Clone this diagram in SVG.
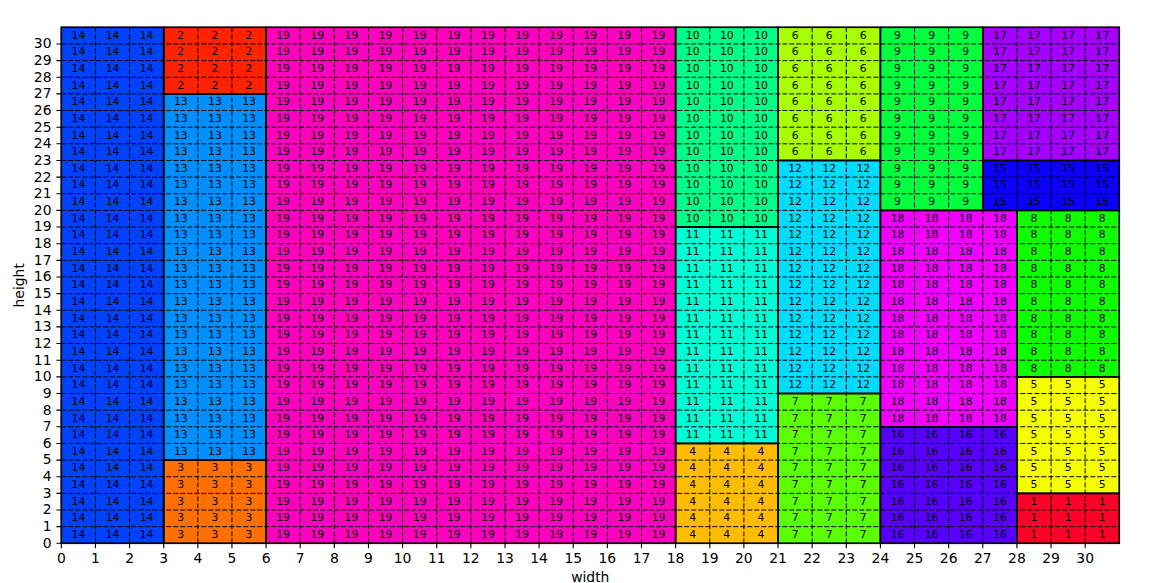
<svg xmlns="http://www.w3.org/2000/svg" width="1156" height="583" viewBox="0 0 1156 583">
<style>
text{font-family:"DejaVu Sans","Liberation Sans",sans-serif;fill:#000}
.c text{font-size:10.8px;text-anchor:middle}
.grid{fill:none;stroke:#000;stroke-width:1;stroke-dasharray:5 2}
.ol{fill:none;stroke:#000;stroke-width:1.6}
.tk{stroke:#000;stroke-width:1.1;fill:none}
.xl{font-size:13.9px;text-anchor:middle}
.yl{font-size:13.9px;text-anchor:end}
</style>
<rect width="1156" height="583" fill="#fff"/>
<g id="fills">
<rect x="61.3" y="27.3" width="102.39" height="516" fill="#0042ff"/>
<rect x="163.69" y="27.3" width="102.38" height="66.59" fill="#ff2300"/>
<rect x="163.69" y="93.89" width="102.38" height="366.19" fill="#008fff"/>
<rect x="163.69" y="460.08" width="102.38" height="83.22" fill="#ff7000"/>
<rect x="266.07" y="27.3" width="409.55" height="516" fill="#ff00bf"/>
<rect x="675.62" y="27.3" width="102.39" height="199.75" fill="#00ff89"/>
<rect x="675.62" y="227.05" width="102.39" height="216.38" fill="#00ffd5"/>
<rect x="675.62" y="443.43" width="102.39" height="99.87" fill="#ffbc00"/>
<rect x="778.01" y="27.3" width="102.39" height="133.17" fill="#a8ff00"/>
<rect x="778.01" y="160.47" width="102.39" height="233.03" fill="#00dcff"/>
<rect x="778.01" y="393.5" width="102.39" height="149.8" fill="#5cff00"/>
<rect x="880.4" y="27.3" width="102.38" height="183.1" fill="#00ff3d"/>
<rect x="880.4" y="210.4" width="136.51" height="216.39" fill="#f200ff"/>
<rect x="880.4" y="426.79" width="136.51" height="116.51" fill="#5800ff"/>
<rect x="982.78" y="27.3" width="136.52" height="133.17" fill="#a500ff"/>
<rect x="982.78" y="160.47" width="136.52" height="49.93" fill="#0b00ff"/>
<rect x="1016.91" y="210.4" width="102.39" height="166.45" fill="#0fff00"/>
<rect x="1016.91" y="376.85" width="102.39" height="116.52" fill="#f5ff00"/>
<rect x="1016.91" y="493.37" width="102.39" height="49.93" fill="#ff0029"/>
</g>
<g id="grid" class="grid">
<path d="M95.43 27.3V543.3M129.56 27.3V543.3M163.69 27.3V543.3M197.82 27.3V543.3M231.95 27.3V543.3M266.07 27.3V543.3M300.2 27.3V543.3M334.33 27.3V543.3M368.46 27.3V543.3M402.59 27.3V543.3M436.72 27.3V543.3M470.85 27.3V543.3M504.98 27.3V543.3M539.11 27.3V543.3M573.24 27.3V543.3M607.36 27.3V543.3M641.49 27.3V543.3M675.62 27.3V543.3M709.75 27.3V543.3M743.88 27.3V543.3M778.01 27.3V543.3M812.14 27.3V543.3M846.27 27.3V543.3M880.4 27.3V543.3M914.53 27.3V543.3M948.65 27.3V543.3M982.78 27.3V543.3M1016.91 27.3V543.3M1051.04 27.3V543.3M1085.17 27.3V543.3"/>
<path d="M61.3 526.66H1119.3M61.3 510.01H1119.3M61.3 493.37H1119.3M61.3 476.72H1119.3M61.3 460.08H1119.3M61.3 443.43H1119.3M61.3 426.79H1119.3M61.3 410.14H1119.3M61.3 393.5H1119.3M61.3 376.85H1119.3M61.3 360.21H1119.3M61.3 343.56H1119.3M61.3 326.92H1119.3M61.3 310.27H1119.3M61.3 293.63H1119.3M61.3 276.98H1119.3M61.3 260.34H1119.3M61.3 243.69H1119.3M61.3 227.05H1119.3M61.3 210.4H1119.3M61.3 193.76H1119.3M61.3 177.11H1119.3M61.3 160.47H1119.3M61.3 143.82H1119.3M61.3 127.18H1119.3M61.3 110.53H1119.3M61.3 93.89H1119.3M61.3 77.24H1119.3M61.3 60.6H1119.3M61.3 43.95H1119.3"/>
</g>
<g id="outlines" class="ol">
<rect x="61.3" y="27.3" width="102.39" height="516"/>
<rect x="163.69" y="27.3" width="102.38" height="66.59"/>
<rect x="163.69" y="93.89" width="102.38" height="366.19"/>
<rect x="163.69" y="460.08" width="102.38" height="83.22"/>
<rect x="266.07" y="27.3" width="409.55" height="516"/>
<rect x="675.62" y="27.3" width="102.39" height="199.75"/>
<rect x="675.62" y="227.05" width="102.39" height="216.38"/>
<rect x="675.62" y="443.43" width="102.39" height="99.87"/>
<rect x="778.01" y="27.3" width="102.39" height="133.17"/>
<rect x="778.01" y="160.47" width="102.39" height="233.03"/>
<rect x="778.01" y="393.5" width="102.39" height="149.8"/>
<rect x="880.4" y="27.3" width="102.38" height="183.1"/>
<rect x="880.4" y="210.4" width="136.51" height="216.39"/>
<rect x="880.4" y="426.79" width="136.51" height="116.51"/>
<rect x="982.78" y="27.3" width="136.52" height="133.17"/>
<rect x="982.78" y="160.47" width="136.52" height="49.93"/>
<rect x="1016.91" y="210.4" width="102.39" height="166.45"/>
<rect x="1016.91" y="376.85" width="102.39" height="116.52"/>
<rect x="1016.91" y="493.37" width="102.39" height="49.93"/>
</g>
<g id="r14" class="c">
<g transform="translate(78.4 0)"><text y="38.6">14</text><text y="55.3">14</text><text y="71.9">14</text><text y="88.6">14</text><text y="105.2">14</text><text y="121.9">14</text><text y="138.5">14</text><text y="155.1">14</text><text y="171.8">14</text><text y="188.4">14</text><text y="205.1">14</text><text y="221.7">14</text><text y="238.4">14</text><text y="255">14</text><text y="271.7">14</text><text y="288.3">14</text><text y="305">14</text><text y="321.6">14</text><text y="338.2">14</text><text y="354.9">14</text><text y="371.5">14</text><text y="388.2">14</text><text y="404.8">14</text><text y="421.5">14</text><text y="438.1">14</text><text y="454.8">14</text><text y="471.4">14</text><text y="488">14</text><text y="504.7">14</text><text y="521.3">14</text><text y="538">14</text></g>
<g transform="translate(112.5 0)"><text y="38.6">14</text><text y="55.3">14</text><text y="71.9">14</text><text y="88.6">14</text><text y="105.2">14</text><text y="121.9">14</text><text y="138.5">14</text><text y="155.1">14</text><text y="171.8">14</text><text y="188.4">14</text><text y="205.1">14</text><text y="221.7">14</text><text y="238.4">14</text><text y="255">14</text><text y="271.7">14</text><text y="288.3">14</text><text y="305">14</text><text y="321.6">14</text><text y="338.2">14</text><text y="354.9">14</text><text y="371.5">14</text><text y="388.2">14</text><text y="404.8">14</text><text y="421.5">14</text><text y="438.1">14</text><text y="454.8">14</text><text y="471.4">14</text><text y="488">14</text><text y="504.7">14</text><text y="521.3">14</text><text y="538">14</text></g>
<g transform="translate(146.6 0)"><text y="38.6">14</text><text y="55.3">14</text><text y="71.9">14</text><text y="88.6">14</text><text y="105.2">14</text><text y="121.9">14</text><text y="138.5">14</text><text y="155.1">14</text><text y="171.8">14</text><text y="188.4">14</text><text y="205.1">14</text><text y="221.7">14</text><text y="238.4">14</text><text y="255">14</text><text y="271.7">14</text><text y="288.3">14</text><text y="305">14</text><text y="321.6">14</text><text y="338.2">14</text><text y="354.9">14</text><text y="371.5">14</text><text y="388.2">14</text><text y="404.8">14</text><text y="421.5">14</text><text y="438.1">14</text><text y="454.8">14</text><text y="471.4">14</text><text y="488">14</text><text y="504.7">14</text><text y="521.3">14</text><text y="538">14</text></g>
</g>
<g id="r2" class="c">
<g transform="translate(180.8 0)"><text y="38.6">2</text><text y="55.3">2</text><text y="71.9">2</text><text y="88.6">2</text></g>
<g transform="translate(214.9 0)"><text y="38.6">2</text><text y="55.3">2</text><text y="71.9">2</text><text y="88.6">2</text></g>
<g transform="translate(249 0)"><text y="38.6">2</text><text y="55.3">2</text><text y="71.9">2</text><text y="88.6">2</text></g>
</g>
<g id="r13" class="c">
<g transform="translate(180.8 0)"><text y="105.2">13</text><text y="121.9">13</text><text y="138.5">13</text><text y="155.1">13</text><text y="171.8">13</text><text y="188.4">13</text><text y="205.1">13</text><text y="221.7">13</text><text y="238.4">13</text><text y="255">13</text><text y="271.7">13</text><text y="288.3">13</text><text y="305">13</text><text y="321.6">13</text><text y="338.2">13</text><text y="354.9">13</text><text y="371.5">13</text><text y="388.2">13</text><text y="404.8">13</text><text y="421.5">13</text><text y="438.1">13</text><text y="454.8">13</text></g>
<g transform="translate(214.9 0)"><text y="105.2">13</text><text y="121.9">13</text><text y="138.5">13</text><text y="155.1">13</text><text y="171.8">13</text><text y="188.4">13</text><text y="205.1">13</text><text y="221.7">13</text><text y="238.4">13</text><text y="255">13</text><text y="271.7">13</text><text y="288.3">13</text><text y="305">13</text><text y="321.6">13</text><text y="338.2">13</text><text y="354.9">13</text><text y="371.5">13</text><text y="388.2">13</text><text y="404.8">13</text><text y="421.5">13</text><text y="438.1">13</text><text y="454.8">13</text></g>
<g transform="translate(249 0)"><text y="105.2">13</text><text y="121.9">13</text><text y="138.5">13</text><text y="155.1">13</text><text y="171.8">13</text><text y="188.4">13</text><text y="205.1">13</text><text y="221.7">13</text><text y="238.4">13</text><text y="255">13</text><text y="271.7">13</text><text y="288.3">13</text><text y="305">13</text><text y="321.6">13</text><text y="338.2">13</text><text y="354.9">13</text><text y="371.5">13</text><text y="388.2">13</text><text y="404.8">13</text><text y="421.5">13</text><text y="438.1">13</text><text y="454.8">13</text></g>
</g>
<g id="r3" class="c">
<g transform="translate(180.8 0)"><text y="471.4">3</text><text y="488">3</text><text y="504.7">3</text><text y="521.3">3</text><text y="538">3</text></g>
<g transform="translate(214.9 0)"><text y="471.4">3</text><text y="488">3</text><text y="504.7">3</text><text y="521.3">3</text><text y="538">3</text></g>
<g transform="translate(249 0)"><text y="471.4">3</text><text y="488">3</text><text y="504.7">3</text><text y="521.3">3</text><text y="538">3</text></g>
</g>
<g id="r19" class="c">
<g transform="translate(283.1 0)"><text y="38.6">19</text><text y="55.3">19</text><text y="71.9">19</text><text y="88.6">19</text><text y="105.2">19</text><text y="121.9">19</text><text y="138.5">19</text><text y="155.1">19</text><text y="171.8">19</text><text y="188.4">19</text><text y="205.1">19</text><text y="221.7">19</text><text y="238.4">19</text><text y="255">19</text><text y="271.7">19</text><text y="288.3">19</text><text y="305">19</text><text y="321.6">19</text><text y="338.2">19</text><text y="354.9">19</text><text y="371.5">19</text><text y="388.2">19</text><text y="404.8">19</text><text y="421.5">19</text><text y="438.1">19</text><text y="454.8">19</text><text y="471.4">19</text><text y="488">19</text><text y="504.7">19</text><text y="521.3">19</text><text y="538">19</text></g>
<g transform="translate(317.3 0)"><text y="38.6">19</text><text y="55.3">19</text><text y="71.9">19</text><text y="88.6">19</text><text y="105.2">19</text><text y="121.9">19</text><text y="138.5">19</text><text y="155.1">19</text><text y="171.8">19</text><text y="188.4">19</text><text y="205.1">19</text><text y="221.7">19</text><text y="238.4">19</text><text y="255">19</text><text y="271.7">19</text><text y="288.3">19</text><text y="305">19</text><text y="321.6">19</text><text y="338.2">19</text><text y="354.9">19</text><text y="371.5">19</text><text y="388.2">19</text><text y="404.8">19</text><text y="421.5">19</text><text y="438.1">19</text><text y="454.8">19</text><text y="471.4">19</text><text y="488">19</text><text y="504.7">19</text><text y="521.3">19</text><text y="538">19</text></g>
<g transform="translate(351.4 0)"><text y="38.6">19</text><text y="55.3">19</text><text y="71.9">19</text><text y="88.6">19</text><text y="105.2">19</text><text y="121.9">19</text><text y="138.5">19</text><text y="155.1">19</text><text y="171.8">19</text><text y="188.4">19</text><text y="205.1">19</text><text y="221.7">19</text><text y="238.4">19</text><text y="255">19</text><text y="271.7">19</text><text y="288.3">19</text><text y="305">19</text><text y="321.6">19</text><text y="338.2">19</text><text y="354.9">19</text><text y="371.5">19</text><text y="388.2">19</text><text y="404.8">19</text><text y="421.5">19</text><text y="438.1">19</text><text y="454.8">19</text><text y="471.4">19</text><text y="488">19</text><text y="504.7">19</text><text y="521.3">19</text><text y="538">19</text></g>
<g transform="translate(385.5 0)"><text y="38.6">19</text><text y="55.3">19</text><text y="71.9">19</text><text y="88.6">19</text><text y="105.2">19</text><text y="121.9">19</text><text y="138.5">19</text><text y="155.1">19</text><text y="171.8">19</text><text y="188.4">19</text><text y="205.1">19</text><text y="221.7">19</text><text y="238.4">19</text><text y="255">19</text><text y="271.7">19</text><text y="288.3">19</text><text y="305">19</text><text y="321.6">19</text><text y="338.2">19</text><text y="354.9">19</text><text y="371.5">19</text><text y="388.2">19</text><text y="404.8">19</text><text y="421.5">19</text><text y="438.1">19</text><text y="454.8">19</text><text y="471.4">19</text><text y="488">19</text><text y="504.7">19</text><text y="521.3">19</text><text y="538">19</text></g>
<g transform="translate(419.7 0)"><text y="38.6">19</text><text y="55.3">19</text><text y="71.9">19</text><text y="88.6">19</text><text y="105.2">19</text><text y="121.9">19</text><text y="138.5">19</text><text y="155.1">19</text><text y="171.8">19</text><text y="188.4">19</text><text y="205.1">19</text><text y="221.7">19</text><text y="238.4">19</text><text y="255">19</text><text y="271.7">19</text><text y="288.3">19</text><text y="305">19</text><text y="321.6">19</text><text y="338.2">19</text><text y="354.9">19</text><text y="371.5">19</text><text y="388.2">19</text><text y="404.8">19</text><text y="421.5">19</text><text y="438.1">19</text><text y="454.8">19</text><text y="471.4">19</text><text y="488">19</text><text y="504.7">19</text><text y="521.3">19</text><text y="538">19</text></g>
<g transform="translate(453.8 0)"><text y="38.6">19</text><text y="55.3">19</text><text y="71.9">19</text><text y="88.6">19</text><text y="105.2">19</text><text y="121.9">19</text><text y="138.5">19</text><text y="155.1">19</text><text y="171.8">19</text><text y="188.4">19</text><text y="205.1">19</text><text y="221.7">19</text><text y="238.4">19</text><text y="255">19</text><text y="271.7">19</text><text y="288.3">19</text><text y="305">19</text><text y="321.6">19</text><text y="338.2">19</text><text y="354.9">19</text><text y="371.5">19</text><text y="388.2">19</text><text y="404.8">19</text><text y="421.5">19</text><text y="438.1">19</text><text y="454.8">19</text><text y="471.4">19</text><text y="488">19</text><text y="504.7">19</text><text y="521.3">19</text><text y="538">19</text></g>
<g transform="translate(487.9 0)"><text y="38.6">19</text><text y="55.3">19</text><text y="71.9">19</text><text y="88.6">19</text><text y="105.2">19</text><text y="121.9">19</text><text y="138.5">19</text><text y="155.1">19</text><text y="171.8">19</text><text y="188.4">19</text><text y="205.1">19</text><text y="221.7">19</text><text y="238.4">19</text><text y="255">19</text><text y="271.7">19</text><text y="288.3">19</text><text y="305">19</text><text y="321.6">19</text><text y="338.2">19</text><text y="354.9">19</text><text y="371.5">19</text><text y="388.2">19</text><text y="404.8">19</text><text y="421.5">19</text><text y="438.1">19</text><text y="454.8">19</text><text y="471.4">19</text><text y="488">19</text><text y="504.7">19</text><text y="521.3">19</text><text y="538">19</text></g>
<g transform="translate(522 0)"><text y="38.6">19</text><text y="55.3">19</text><text y="71.9">19</text><text y="88.6">19</text><text y="105.2">19</text><text y="121.9">19</text><text y="138.5">19</text><text y="155.1">19</text><text y="171.8">19</text><text y="188.4">19</text><text y="205.1">19</text><text y="221.7">19</text><text y="238.4">19</text><text y="255">19</text><text y="271.7">19</text><text y="288.3">19</text><text y="305">19</text><text y="321.6">19</text><text y="338.2">19</text><text y="354.9">19</text><text y="371.5">19</text><text y="388.2">19</text><text y="404.8">19</text><text y="421.5">19</text><text y="438.1">19</text><text y="454.8">19</text><text y="471.4">19</text><text y="488">19</text><text y="504.7">19</text><text y="521.3">19</text><text y="538">19</text></g>
<g transform="translate(556.2 0)"><text y="38.6">19</text><text y="55.3">19</text><text y="71.9">19</text><text y="88.6">19</text><text y="105.2">19</text><text y="121.9">19</text><text y="138.5">19</text><text y="155.1">19</text><text y="171.8">19</text><text y="188.4">19</text><text y="205.1">19</text><text y="221.7">19</text><text y="238.4">19</text><text y="255">19</text><text y="271.7">19</text><text y="288.3">19</text><text y="305">19</text><text y="321.6">19</text><text y="338.2">19</text><text y="354.9">19</text><text y="371.5">19</text><text y="388.2">19</text><text y="404.8">19</text><text y="421.5">19</text><text y="438.1">19</text><text y="454.8">19</text><text y="471.4">19</text><text y="488">19</text><text y="504.7">19</text><text y="521.3">19</text><text y="538">19</text></g>
<g transform="translate(590.3 0)"><text y="38.6">19</text><text y="55.3">19</text><text y="71.9">19</text><text y="88.6">19</text><text y="105.2">19</text><text y="121.9">19</text><text y="138.5">19</text><text y="155.1">19</text><text y="171.8">19</text><text y="188.4">19</text><text y="205.1">19</text><text y="221.7">19</text><text y="238.4">19</text><text y="255">19</text><text y="271.7">19</text><text y="288.3">19</text><text y="305">19</text><text y="321.6">19</text><text y="338.2">19</text><text y="354.9">19</text><text y="371.5">19</text><text y="388.2">19</text><text y="404.8">19</text><text y="421.5">19</text><text y="438.1">19</text><text y="454.8">19</text><text y="471.4">19</text><text y="488">19</text><text y="504.7">19</text><text y="521.3">19</text><text y="538">19</text></g>
<g transform="translate(624.4 0)"><text y="38.6">19</text><text y="55.3">19</text><text y="71.9">19</text><text y="88.6">19</text><text y="105.2">19</text><text y="121.9">19</text><text y="138.5">19</text><text y="155.1">19</text><text y="171.8">19</text><text y="188.4">19</text><text y="205.1">19</text><text y="221.7">19</text><text y="238.4">19</text><text y="255">19</text><text y="271.7">19</text><text y="288.3">19</text><text y="305">19</text><text y="321.6">19</text><text y="338.2">19</text><text y="354.9">19</text><text y="371.5">19</text><text y="388.2">19</text><text y="404.8">19</text><text y="421.5">19</text><text y="438.1">19</text><text y="454.8">19</text><text y="471.4">19</text><text y="488">19</text><text y="504.7">19</text><text y="521.3">19</text><text y="538">19</text></g>
<g transform="translate(658.6 0)"><text y="38.6">19</text><text y="55.3">19</text><text y="71.9">19</text><text y="88.6">19</text><text y="105.2">19</text><text y="121.9">19</text><text y="138.5">19</text><text y="155.1">19</text><text y="171.8">19</text><text y="188.4">19</text><text y="205.1">19</text><text y="221.7">19</text><text y="238.4">19</text><text y="255">19</text><text y="271.7">19</text><text y="288.3">19</text><text y="305">19</text><text y="321.6">19</text><text y="338.2">19</text><text y="354.9">19</text><text y="371.5">19</text><text y="388.2">19</text><text y="404.8">19</text><text y="421.5">19</text><text y="438.1">19</text><text y="454.8">19</text><text y="471.4">19</text><text y="488">19</text><text y="504.7">19</text><text y="521.3">19</text><text y="538">19</text></g>
</g>
<g id="r10" class="c">
<g transform="translate(692.7 0)"><text y="38.6">10</text><text y="55.3">10</text><text y="71.9">10</text><text y="88.6">10</text><text y="105.2">10</text><text y="121.9">10</text><text y="138.5">10</text><text y="155.1">10</text><text y="171.8">10</text><text y="188.4">10</text><text y="205.1">10</text><text y="221.7">10</text></g>
<g transform="translate(726.8 0)"><text y="38.6">10</text><text y="55.3">10</text><text y="71.9">10</text><text y="88.6">10</text><text y="105.2">10</text><text y="121.9">10</text><text y="138.5">10</text><text y="155.1">10</text><text y="171.8">10</text><text y="188.4">10</text><text y="205.1">10</text><text y="221.7">10</text></g>
<g transform="translate(761 0)"><text y="38.6">10</text><text y="55.3">10</text><text y="71.9">10</text><text y="88.6">10</text><text y="105.2">10</text><text y="121.9">10</text><text y="138.5">10</text><text y="155.1">10</text><text y="171.8">10</text><text y="188.4">10</text><text y="205.1">10</text><text y="221.7">10</text></g>
</g>
<g id="r11" class="c">
<g transform="translate(692.7 0)"><text y="238.4">11</text><text y="255">11</text><text y="271.7">11</text><text y="288.3">11</text><text y="305">11</text><text y="321.6">11</text><text y="338.2">11</text><text y="354.9">11</text><text y="371.5">11</text><text y="388.2">11</text><text y="404.8">11</text><text y="421.5">11</text><text y="438.1">11</text></g>
<g transform="translate(726.8 0)"><text y="238.4">11</text><text y="255">11</text><text y="271.7">11</text><text y="288.3">11</text><text y="305">11</text><text y="321.6">11</text><text y="338.2">11</text><text y="354.9">11</text><text y="371.5">11</text><text y="388.2">11</text><text y="404.8">11</text><text y="421.5">11</text><text y="438.1">11</text></g>
<g transform="translate(761 0)"><text y="238.4">11</text><text y="255">11</text><text y="271.7">11</text><text y="288.3">11</text><text y="305">11</text><text y="321.6">11</text><text y="338.2">11</text><text y="354.9">11</text><text y="371.5">11</text><text y="388.2">11</text><text y="404.8">11</text><text y="421.5">11</text><text y="438.1">11</text></g>
</g>
<g id="r4" class="c">
<g transform="translate(692.7 0)"><text y="454.8">4</text><text y="471.4">4</text><text y="488">4</text><text y="504.7">4</text><text y="521.3">4</text><text y="538">4</text></g>
<g transform="translate(726.8 0)"><text y="454.8">4</text><text y="471.4">4</text><text y="488">4</text><text y="504.7">4</text><text y="521.3">4</text><text y="538">4</text></g>
<g transform="translate(761 0)"><text y="454.8">4</text><text y="471.4">4</text><text y="488">4</text><text y="504.7">4</text><text y="521.3">4</text><text y="538">4</text></g>
</g>
<g id="r6" class="c">
<g transform="translate(795.1 0)"><text y="38.6">6</text><text y="55.3">6</text><text y="71.9">6</text><text y="88.6">6</text><text y="105.2">6</text><text y="121.9">6</text><text y="138.5">6</text><text y="155.1">6</text></g>
<g transform="translate(829.2 0)"><text y="38.6">6</text><text y="55.3">6</text><text y="71.9">6</text><text y="88.6">6</text><text y="105.2">6</text><text y="121.9">6</text><text y="138.5">6</text><text y="155.1">6</text></g>
<g transform="translate(863.3 0)"><text y="38.6">6</text><text y="55.3">6</text><text y="71.9">6</text><text y="88.6">6</text><text y="105.2">6</text><text y="121.9">6</text><text y="138.5">6</text><text y="155.1">6</text></g>
</g>
<g id="r12" class="c">
<g transform="translate(795.1 0)"><text y="171.8">12</text><text y="188.4">12</text><text y="205.1">12</text><text y="221.7">12</text><text y="238.4">12</text><text y="255">12</text><text y="271.7">12</text><text y="288.3">12</text><text y="305">12</text><text y="321.6">12</text><text y="338.2">12</text><text y="354.9">12</text><text y="371.5">12</text><text y="388.2">12</text></g>
<g transform="translate(829.2 0)"><text y="171.8">12</text><text y="188.4">12</text><text y="205.1">12</text><text y="221.7">12</text><text y="238.4">12</text><text y="255">12</text><text y="271.7">12</text><text y="288.3">12</text><text y="305">12</text><text y="321.6">12</text><text y="338.2">12</text><text y="354.9">12</text><text y="371.5">12</text><text y="388.2">12</text></g>
<g transform="translate(863.3 0)"><text y="171.8">12</text><text y="188.4">12</text><text y="205.1">12</text><text y="221.7">12</text><text y="238.4">12</text><text y="255">12</text><text y="271.7">12</text><text y="288.3">12</text><text y="305">12</text><text y="321.6">12</text><text y="338.2">12</text><text y="354.9">12</text><text y="371.5">12</text><text y="388.2">12</text></g>
</g>
<g id="r7" class="c">
<g transform="translate(795.1 0)"><text y="404.8">7</text><text y="421.5">7</text><text y="438.1">7</text><text y="454.8">7</text><text y="471.4">7</text><text y="488">7</text><text y="504.7">7</text><text y="521.3">7</text><text y="538">7</text></g>
<g transform="translate(829.2 0)"><text y="404.8">7</text><text y="421.5">7</text><text y="438.1">7</text><text y="454.8">7</text><text y="471.4">7</text><text y="488">7</text><text y="504.7">7</text><text y="521.3">7</text><text y="538">7</text></g>
<g transform="translate(863.3 0)"><text y="404.8">7</text><text y="421.5">7</text><text y="438.1">7</text><text y="454.8">7</text><text y="471.4">7</text><text y="488">7</text><text y="504.7">7</text><text y="521.3">7</text><text y="538">7</text></g>
</g>
<g id="r9" class="c">
<g transform="translate(897.5 0)"><text y="38.6">9</text><text y="55.3">9</text><text y="71.9">9</text><text y="88.6">9</text><text y="105.2">9</text><text y="121.9">9</text><text y="138.5">9</text><text y="155.1">9</text><text y="171.8">9</text><text y="188.4">9</text><text y="205.1">9</text></g>
<g transform="translate(931.6 0)"><text y="38.6">9</text><text y="55.3">9</text><text y="71.9">9</text><text y="88.6">9</text><text y="105.2">9</text><text y="121.9">9</text><text y="138.5">9</text><text y="155.1">9</text><text y="171.8">9</text><text y="188.4">9</text><text y="205.1">9</text></g>
<g transform="translate(965.7 0)"><text y="38.6">9</text><text y="55.3">9</text><text y="71.9">9</text><text y="88.6">9</text><text y="105.2">9</text><text y="121.9">9</text><text y="138.5">9</text><text y="155.1">9</text><text y="171.8">9</text><text y="188.4">9</text><text y="205.1">9</text></g>
</g>
<g id="r17" class="c">
<g transform="translate(999.9 0)"><text y="38.6">17</text><text y="55.3">17</text><text y="71.9">17</text><text y="88.6">17</text><text y="105.2">17</text><text y="121.9">17</text><text y="138.5">17</text><text y="155.1">17</text></g>
<g transform="translate(1034 0)"><text y="38.6">17</text><text y="55.3">17</text><text y="71.9">17</text><text y="88.6">17</text><text y="105.2">17</text><text y="121.9">17</text><text y="138.5">17</text><text y="155.1">17</text></g>
<g transform="translate(1068.1 0)"><text y="38.6">17</text><text y="55.3">17</text><text y="71.9">17</text><text y="88.6">17</text><text y="105.2">17</text><text y="121.9">17</text><text y="138.5">17</text><text y="155.1">17</text></g>
<g transform="translate(1102.2 0)"><text y="38.6">17</text><text y="55.3">17</text><text y="71.9">17</text><text y="88.6">17</text><text y="105.2">17</text><text y="121.9">17</text><text y="138.5">17</text><text y="155.1">17</text></g>
</g>
<g id="r15" class="c">
<g transform="translate(999.9 0)"><text y="171.8">15</text><text y="188.4">15</text><text y="205.1">15</text></g>
<g transform="translate(1034 0)"><text y="171.8">15</text><text y="188.4">15</text><text y="205.1">15</text></g>
<g transform="translate(1068.1 0)"><text y="171.8">15</text><text y="188.4">15</text><text y="205.1">15</text></g>
<g transform="translate(1102.2 0)"><text y="171.8">15</text><text y="188.4">15</text><text y="205.1">15</text></g>
</g>
<g id="r18" class="c">
<g transform="translate(897.5 0)"><text y="221.7">18</text><text y="238.4">18</text><text y="255">18</text><text y="271.7">18</text><text y="288.3">18</text><text y="305">18</text><text y="321.6">18</text><text y="338.2">18</text><text y="354.9">18</text><text y="371.5">18</text><text y="388.2">18</text><text y="404.8">18</text><text y="421.5">18</text></g>
<g transform="translate(931.6 0)"><text y="221.7">18</text><text y="238.4">18</text><text y="255">18</text><text y="271.7">18</text><text y="288.3">18</text><text y="305">18</text><text y="321.6">18</text><text y="338.2">18</text><text y="354.9">18</text><text y="371.5">18</text><text y="388.2">18</text><text y="404.8">18</text><text y="421.5">18</text></g>
<g transform="translate(965.7 0)"><text y="221.7">18</text><text y="238.4">18</text><text y="255">18</text><text y="271.7">18</text><text y="288.3">18</text><text y="305">18</text><text y="321.6">18</text><text y="338.2">18</text><text y="354.9">18</text><text y="371.5">18</text><text y="388.2">18</text><text y="404.8">18</text><text y="421.5">18</text></g>
<g transform="translate(999.9 0)"><text y="221.7">18</text><text y="238.4">18</text><text y="255">18</text><text y="271.7">18</text><text y="288.3">18</text><text y="305">18</text><text y="321.6">18</text><text y="338.2">18</text><text y="354.9">18</text><text y="371.5">18</text><text y="388.2">18</text><text y="404.8">18</text><text y="421.5">18</text></g>
</g>
<g id="r16" class="c">
<g transform="translate(897.5 0)"><text y="438.1">16</text><text y="454.8">16</text><text y="471.4">16</text><text y="488">16</text><text y="504.7">16</text><text y="521.3">16</text><text y="538">16</text></g>
<g transform="translate(931.6 0)"><text y="438.1">16</text><text y="454.8">16</text><text y="471.4">16</text><text y="488">16</text><text y="504.7">16</text><text y="521.3">16</text><text y="538">16</text></g>
<g transform="translate(965.7 0)"><text y="438.1">16</text><text y="454.8">16</text><text y="471.4">16</text><text y="488">16</text><text y="504.7">16</text><text y="521.3">16</text><text y="538">16</text></g>
<g transform="translate(999.9 0)"><text y="438.1">16</text><text y="454.8">16</text><text y="471.4">16</text><text y="488">16</text><text y="504.7">16</text><text y="521.3">16</text><text y="538">16</text></g>
</g>
<g id="r8" class="c">
<g transform="translate(1034 0)"><text y="221.7">8</text><text y="238.4">8</text><text y="255">8</text><text y="271.7">8</text><text y="288.3">8</text><text y="305">8</text><text y="321.6">8</text><text y="338.2">8</text><text y="354.9">8</text><text y="371.5">8</text></g>
<g transform="translate(1068.1 0)"><text y="221.7">8</text><text y="238.4">8</text><text y="255">8</text><text y="271.7">8</text><text y="288.3">8</text><text y="305">8</text><text y="321.6">8</text><text y="338.2">8</text><text y="354.9">8</text><text y="371.5">8</text></g>
<g transform="translate(1102.2 0)"><text y="221.7">8</text><text y="238.4">8</text><text y="255">8</text><text y="271.7">8</text><text y="288.3">8</text><text y="305">8</text><text y="321.6">8</text><text y="338.2">8</text><text y="354.9">8</text><text y="371.5">8</text></g>
</g>
<g id="r5" class="c">
<g transform="translate(1034 0)"><text y="388.2">5</text><text y="404.8">5</text><text y="421.5">5</text><text y="438.1">5</text><text y="454.8">5</text><text y="471.4">5</text><text y="488">5</text></g>
<g transform="translate(1068.1 0)"><text y="388.2">5</text><text y="404.8">5</text><text y="421.5">5</text><text y="438.1">5</text><text y="454.8">5</text><text y="471.4">5</text><text y="488">5</text></g>
<g transform="translate(1102.2 0)"><text y="388.2">5</text><text y="404.8">5</text><text y="421.5">5</text><text y="438.1">5</text><text y="454.8">5</text><text y="471.4">5</text><text y="488">5</text></g>
</g>
<g id="r1" class="c">
<g transform="translate(1034 0)"><text y="504.7">1</text><text y="521.3">1</text><text y="538">1</text></g>
<g transform="translate(1068.1 0)"><text y="504.7">1</text><text y="521.3">1</text><text y="538">1</text></g>
<g transform="translate(1102.2 0)"><text y="504.7">1</text><text y="521.3">1</text><text y="538">1</text></g>
</g>
<g id="axes">
<rect x="61.3" y="27.3" width="1058" height="516" fill="none" stroke="#000" stroke-width="1.1"/>
<path class="tk" d="M61.3 543.3v4.9M95.43 543.3v4.9M129.56 543.3v4.9M163.69 543.3v4.9M197.82 543.3v4.9M231.95 543.3v4.9M266.07 543.3v4.9M300.2 543.3v4.9M334.33 543.3v4.9M368.46 543.3v4.9M402.59 543.3v4.9M436.72 543.3v4.9M470.85 543.3v4.9M504.98 543.3v4.9M539.11 543.3v4.9M573.24 543.3v4.9M607.36 543.3v4.9M641.49 543.3v4.9M675.62 543.3v4.9M709.75 543.3v4.9M743.88 543.3v4.9M778.01 543.3v4.9M812.14 543.3v4.9M846.27 543.3v4.9M880.4 543.3v4.9M914.53 543.3v4.9M948.65 543.3v4.9M982.78 543.3v4.9M1016.91 543.3v4.9M1051.04 543.3v4.9M1085.17 543.3v4.9"/>
<path class="tk" d="M61.3 543.3h-4.9M61.3 526.66h-4.9M61.3 510.01h-4.9M61.3 493.37h-4.9M61.3 476.72h-4.9M61.3 460.08h-4.9M61.3 443.43h-4.9M61.3 426.79h-4.9M61.3 410.14h-4.9M61.3 393.5h-4.9M61.3 376.85h-4.9M61.3 360.21h-4.9M61.3 343.56h-4.9M61.3 326.92h-4.9M61.3 310.27h-4.9M61.3 293.63h-4.9M61.3 276.98h-4.9M61.3 260.34h-4.9M61.3 243.69h-4.9M61.3 227.05h-4.9M61.3 210.4h-4.9M61.3 193.76h-4.9M61.3 177.11h-4.9M61.3 160.47h-4.9M61.3 143.82h-4.9M61.3 127.18h-4.9M61.3 110.53h-4.9M61.3 93.89h-4.9M61.3 77.24h-4.9M61.3 60.6h-4.9M61.3 43.95h-4.9"/>
<g class="xl">
<text x="61.3" y="563.3">0</text><text x="95.43" y="563.3">1</text><text x="129.56" y="563.3">2</text><text x="163.69" y="563.3">3</text><text x="197.82" y="563.3">4</text><text x="231.95" y="563.3">5</text><text x="266.07" y="563.3">6</text><text x="300.2" y="563.3">7</text><text x="334.33" y="563.3">8</text><text x="368.46" y="563.3">9</text><text x="402.59" y="563.3">10</text><text x="436.72" y="563.3">11</text><text x="470.85" y="563.3">12</text><text x="504.98" y="563.3">13</text><text x="539.11" y="563.3">14</text><text x="573.24" y="563.3">15</text><text x="607.36" y="563.3">16</text><text x="641.49" y="563.3">17</text><text x="675.62" y="563.3">18</text><text x="709.75" y="563.3">19</text><text x="743.88" y="563.3">20</text><text x="778.01" y="563.3">21</text><text x="812.14" y="563.3">22</text><text x="846.27" y="563.3">23</text><text x="880.4" y="563.3">24</text><text x="914.53" y="563.3">25</text><text x="948.65" y="563.3">26</text><text x="982.78" y="563.3">27</text><text x="1016.91" y="563.3">28</text><text x="1051.04" y="563.3">29</text><text x="1085.17" y="563.3">30</text>
</g>
<g class="yl">
<text x="51.5" y="547.7">0</text><text x="51.5" y="531.06">1</text><text x="51.5" y="514.41">2</text><text x="51.5" y="497.77">3</text><text x="51.5" y="481.12">4</text><text x="51.5" y="464.48">5</text><text x="51.5" y="447.83">6</text><text x="51.5" y="431.19">7</text><text x="51.5" y="414.54">8</text><text x="51.5" y="397.9">9</text><text x="51.5" y="381.25">10</text><text x="51.5" y="364.61">11</text><text x="51.5" y="347.96">12</text><text x="51.5" y="331.32">13</text><text x="51.5" y="314.67">14</text><text x="51.5" y="298.03">15</text><text x="51.5" y="281.38">16</text><text x="51.5" y="264.74">17</text><text x="51.5" y="248.09">18</text><text x="51.5" y="231.45">19</text><text x="51.5" y="214.8">20</text><text x="51.5" y="198.16">21</text><text x="51.5" y="181.51">22</text><text x="51.5" y="164.87">23</text><text x="51.5" y="148.22">24</text><text x="51.5" y="131.58">25</text><text x="51.5" y="114.93">26</text><text x="51.5" y="98.29">27</text><text x="51.5" y="81.64">28</text><text x="51.5" y="65">29</text><text x="51.5" y="48.35">30</text>
</g>
<text class="xl" x="590.3" y="582">width</text>
<text class="xl" transform="translate(23.5 285.3) rotate(-90)">height</text>
</g>
</svg>
